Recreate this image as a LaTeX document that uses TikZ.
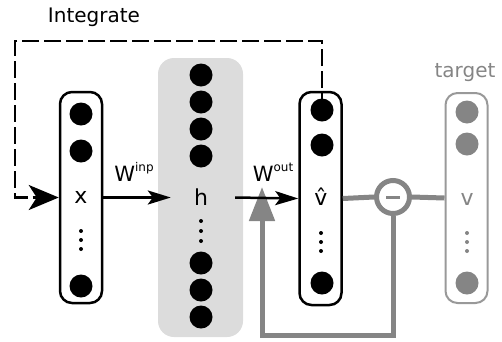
\documentclass[tikz,border=0pt]{standalone}
\usepackage{fontspec}
\setmainfont{DejaVu Sans}
\usetikzlibrary{arrows.meta}
\definecolor{fbgray}{HTML}{858585}
\definecolor{tgray}{HTML}{999999}
\definecolor{hgray}{HTML}{DCDCDC}
\begin{document}
\begin{tikzpicture}[x=1pt,y=-1pt,
  layer/.style={draw=black,line width=2.5pt,rounded corners=12pt,minimum width=42pt,inner sep=0pt},
  tlayer/.style={draw=tgray,line width=2pt,rounded corners=12pt,minimum width=42pt,inner sep=0pt},
  neuron/.style={circle,fill=black,minimum size=23pt,inner sep=0pt},
  tneuron/.style={circle,fill=fbgray,minimum size=23pt,inner sep=0pt},
  dotn/.style={circle,fill=black,minimum size=4pt,inner sep=0pt},
  tdotn/.style={circle,fill=fbgray,minimum size=4pt,inner sep=0pt},
  lab/.style={font=\fontsize{22}{24}\selectfont,inner sep=0pt},
  wlab/.style={font=\fontsize{21}{24}\selectfont,inner sep=0pt},
  grayline/.style={draw=fbgray,line width=5pt},
  dashline/.style={draw=black,line width=2.6pt,dash pattern=on 17pt off 5pt},
]
\useasboundingbox (0,0) rectangle (502,341);
% hidden layer background
\node[fill=hgray,rounded corners=16pt,minimum width=85pt,minimum height=279pt,inner sep=0pt] (hbox) at (200.5,197.5) {};
% boxes
\node[layer,minimum height=211pt] (xbox) at (81,197.5) {};
\node[layer,minimum height=213pt] (vbox) at (320.5,198.5) {};
\node[tlayer,minimum height=210pt] (tbox) at (466.5,198) {};

% labels
\node[font=\fontsize{20}{24}\selectfont,inner sep=0pt] (integ) at (94,17) {Integrate};
\node[font=\fontsize{20}{24}\selectfont,text=fbgray,inner sep=0pt] (targ) at (465,73) {target};
\node[lab] (xlab) at (81,197) {x};
\node[lab] (hlab) at (201,197) {h};
\node[lab] (vlab) at (321,197) {\^{v}};
\node[lab,text=fbgray] (tlab) at (467,199) {v};
\node[wlab] (win) at (134,172) {W\raisebox{0.85ex}{\fontsize{12}{14}\selectfont inp}};
\node[wlab] (wout) at (273,172) {W\raisebox{0.85ex}{\fontsize{12}{14}\selectfont out}};

% minus node
\node[circle,draw=fbgray,line width=5pt,fill=white,minimum size=33pt,inner sep=0pt] (minus) at (393,197) {};
\coordinate (fbc) at (262,335);
\coordinate (fbtip) at (262,187);
\coordinate (dc) at (15,41);

% gray connectors
\draw[grayline] (vbox.east) -- (minus.west);
\draw[grayline] (minus.east) -- (tbox.west);
\draw[grayline,-{Triangle[length=34pt,width=25pt]}] (minus.south) |- (fbc) -- (fbtip);
\draw[draw=fbgray,line width=3pt] (386,197) -- (400,197);

% black arrows
\draw[line width=2.5pt,-{Stealth[length=23pt,width=14pt,inset=5pt]}] (xbox.east) -- ([xshift=13pt]hbox.west);
\draw[line width=2.5pt,-{Stealth[length=23pt,width=14pt,inset=5pt]}] ([xshift=-8pt]hbox.east) -- (vbox.west);

% neurons
\node[neuron] (x1) at (81,114) {};
\node[neuron] (x2) at (81,151) {};
\node[neuron] (x3) at (81,286) {};
\node[dotn] (xd1) at (81,231) {};
\node[dotn] (xd2) at (81,240) {};
\node[dotn] (xd3) at (81,249) {};

\node[neuron] (h1) at (201,75) {};
\node[neuron] (h2) at (201,102) {};
\node[neuron] (h3) at (201,129) {};
\node[neuron] (h4) at (201,156) {};
\node[neuron] (h5) at (201,263) {};
\node[neuron] (h6) at (201,290) {};
\node[neuron] (h7) at (201,317) {};
\node[dotn] (hd1) at (201,221) {};
\node[dotn] (hd2) at (201,231) {};
\node[dotn] (hd3) at (201,241) {};

% dashed integrate loop
\draw[dashline,-{Stealth[length=30pt,width=25pt,inset=8pt]}] (322,110) |- (dc) |- (xbox.west);

\node[neuron] (v1) at (322,110) {};
\node[neuron] (v2) at (322,145) {};
\node[neuron] (v3) at (322,283) {};
\node[dotn] (vd1) at (321,233) {};
\node[dotn] (vd2) at (321,242) {};
\node[dotn] (vd3) at (321,251) {};

\node[tneuron] (t1) at (467,112) {};
\node[tneuron] (t2) at (467,144) {};
\node[tneuron] (t3) at (467,283) {};
\node[tdotn] (td1) at (467,233) {};
\node[tdotn] (td2) at (467,242) {};
\node[tdotn] (td3) at (467,251) {};
\end{tikzpicture}
\end{document}
